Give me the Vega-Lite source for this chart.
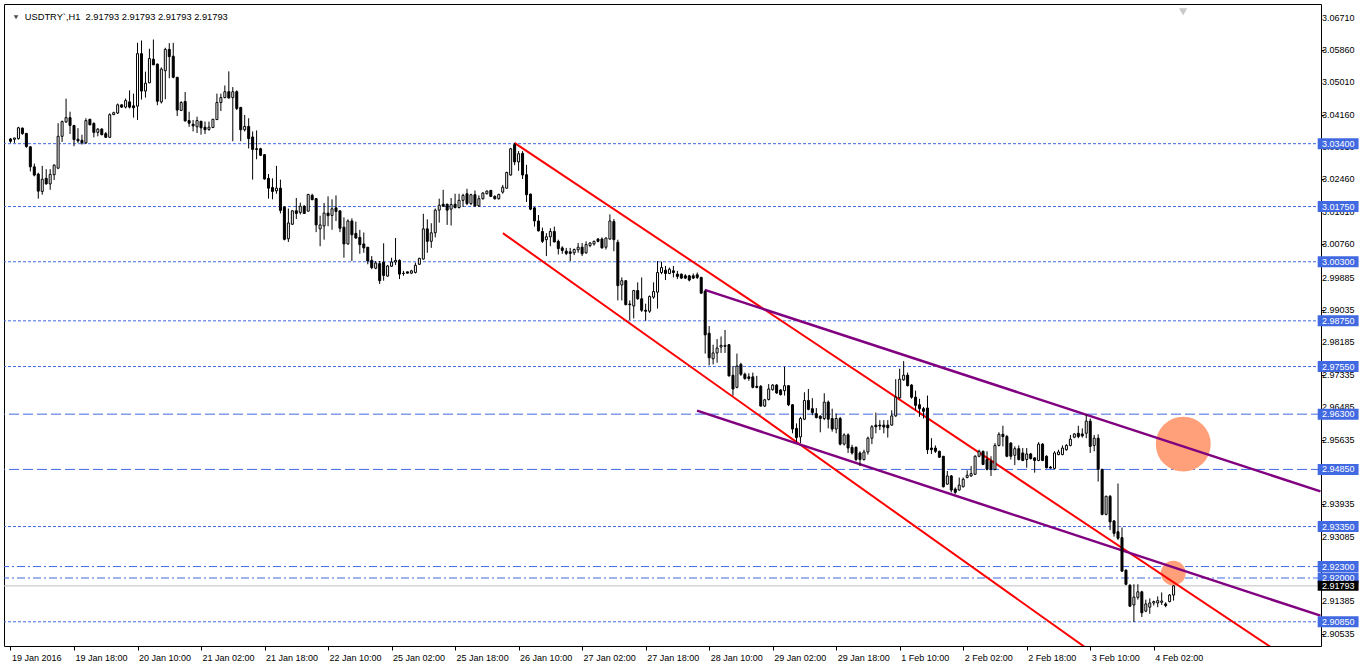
{
"$schema":"https://vega.github.io/schema/vega-lite/v6.json",
"autosize":"none","width":1317,"height":642,
"padding":{"left":4,"top":4,"right":45,"bottom":19},
"background":"white",
"config":{"view":{"stroke":"black","strokeWidth":1},"axis":{"domain":false,"grid":false,"tickColor":"black","labelColor":"black","labelFont":"Liberation Sans","labelFontSize":9,"labelOverlap":false}},
"datasets":{
"candles":[
{"i":0,"o":3.03524,"h":3.0355,"l":3.03421,"c":3.03464},
{"i":1,"o":3.03515,"h":3.0355,"l":3.03421,"c":3.0355},
{"i":2,"o":3.03533,"h":3.03843,"l":3.03507,"c":3.03817},
{"i":3,"o":3.03808,"h":3.03825,"l":3.03636,"c":3.03662},
{"i":4,"o":3.0367,"h":3.03679,"l":3.03291,"c":3.03326},
{"i":5,"o":3.03317,"h":3.03334,"l":3.02671,"c":3.02792},
{"i":6,"o":3.02792,"h":3.02878,"l":3.02542,"c":3.02576},
{"i":7,"o":3.02602,"h":3.02637,"l":3.01956,"c":3.02154},
{"i":8,"o":3.02146,"h":3.02818,"l":3.0206,"c":3.02465},
{"i":9,"o":3.0249,"h":3.02731,"l":3.02327,"c":3.02344},
{"i":10,"o":3.02344,"h":3.02731,"l":3.02189,"c":3.02594},
{"i":11,"o":3.02585,"h":3.02861,"l":3.02447,"c":3.02835},
{"i":12,"o":3.02757,"h":3.03937,"l":3.02731,"c":3.03593},
{"i":13,"o":3.03593,"h":3.04006,"l":3.03446,"c":3.0398},
{"i":14,"o":3.03972,"h":3.04583,"l":3.03946,"c":3.04084},
{"i":15,"o":3.04084,"h":3.04239,"l":3.03653,"c":3.03877},
{"i":16,"o":3.03877,"h":3.03894,"l":3.03334,"c":3.03507},
{"i":17,"o":3.03515,"h":3.03808,"l":3.03421,"c":3.03472},
{"i":18,"o":3.03489,"h":3.03636,"l":3.03377,"c":3.03421},
{"i":19,"o":3.03421,"h":3.04067,"l":3.03395,"c":3.04006},
{"i":20,"o":3.04041,"h":3.04049,"l":3.03886,"c":3.03894},
{"i":21,"o":3.03929,"h":3.03963,"l":3.03567,"c":3.03696},
{"i":22,"o":3.03696,"h":3.03808,"l":3.03593,"c":3.03782},
{"i":23,"o":3.03782,"h":3.03808,"l":3.03619,"c":3.03636},
{"i":24,"o":3.03662,"h":3.03705,"l":3.0355,"c":3.03567},
{"i":25,"o":3.03567,"h":3.04196,"l":3.0355,"c":3.04161},
{"i":26,"o":3.04161,"h":3.04239,"l":3.04153,"c":3.04213},
{"i":27,"o":3.04204,"h":3.04454,"l":3.04178,"c":3.0442},
{"i":28,"o":3.0442,"h":3.04428,"l":3.04342,"c":3.04359},
{"i":29,"o":3.04359,"h":3.04583,"l":3.04325,"c":3.04532},
{"i":30,"o":3.04497,"h":3.04799,"l":3.04325,"c":3.04359},
{"i":31,"o":3.04394,"h":3.04712,"l":3.04084,"c":3.04342},
{"i":32,"o":3.04385,"h":3.06047,"l":3.04023,"c":3.05763},
{"i":33,"o":3.05763,"h":3.06108,"l":3.04557,"c":3.04781},
{"i":34,"o":3.04781,"h":3.0529,"l":3.04609,"c":3.04988},
{"i":35,"o":3.04997,"h":3.05892,"l":3.04988,"c":3.05634},
{"i":36,"o":3.05617,"h":3.06134,"l":3.05462,"c":3.0547},
{"i":37,"o":3.05488,"h":3.05505,"l":3.04411,"c":3.04514},
{"i":38,"o":3.04497,"h":3.05402,"l":3.04454,"c":3.05358},
{"i":39,"o":3.05315,"h":3.05918,"l":3.04566,"c":3.05875},
{"i":40,"o":3.05875,"h":3.06039,"l":3.05117,"c":3.05686},
{"i":41,"o":3.05694,"h":3.06047,"l":3.05117,"c":3.05143},
{"i":42,"o":3.05143,"h":3.05143,"l":3.04127,"c":3.04282},
{"i":43,"o":3.04273,"h":3.04514,"l":3.04256,"c":3.0448},
{"i":44,"o":3.04506,"h":3.04756,"l":3.0398,"c":3.03998},
{"i":45,"o":3.04006,"h":3.04239,"l":3.03843,"c":3.03937},
{"i":46,"o":3.03911,"h":3.04023,"l":3.03722,"c":3.03868},
{"i":47,"o":3.03843,"h":3.0411,"l":3.03679,"c":3.04006},
{"i":48,"o":3.03989,"h":3.03998,"l":3.03636,"c":3.03817},
{"i":49,"o":3.03834,"h":3.0398,"l":3.03653,"c":3.03765},
{"i":50,"o":3.03774,"h":3.0398,"l":3.03739,"c":3.03834},
{"i":51,"o":3.03825,"h":3.04049,"l":3.03808,"c":3.04041},
{"i":52,"o":3.04032,"h":3.04713,"l":3.04023,"c":3.0448},
{"i":53,"o":3.0448,"h":3.04713,"l":3.04256,"c":3.04609},
{"i":54,"o":3.04609,"h":3.04928,"l":3.04592,"c":3.04764},
{"i":55,"o":3.04764,"h":3.05298,"l":3.04583,"c":3.046},
{"i":56,"o":3.04609,"h":3.04885,"l":3.03464,"c":3.04764},
{"i":57,"o":3.04764,"h":3.04799,"l":3.04282,"c":3.04325},
{"i":58,"o":3.0435,"h":3.04368,"l":3.03464,"c":3.03765},
{"i":59,"o":3.03765,"h":3.04153,"l":3.03722,"c":3.03852},
{"i":60,"o":3.03852,"h":3.04067,"l":3.03274,"c":3.03533},
{"i":61,"o":3.03576,"h":3.03722,"l":3.02456,"c":3.03249},
{"i":62,"o":3.03266,"h":3.03748,"l":3.0299,"c":3.03249},
{"i":63,"o":3.03266,"h":3.03292,"l":3.03076,"c":3.03094},
{"i":64,"o":3.03111,"h":3.0312,"l":3.02456,"c":3.02473},
{"i":65,"o":3.0249,"h":3.02603,"l":3.01957,"c":3.02232},
{"i":66,"o":3.0225,"h":3.0249,"l":3.0194,"c":3.02146},
{"i":67,"o":3.02163,"h":3.02818,"l":3.02086,"c":3.02232},
{"i":68,"o":3.02232,"h":3.02456,"l":3.01569,"c":3.01647},
{"i":69,"o":3.01733,"h":3.01759,"l":3.00863,"c":3.00889},
{"i":70,"o":3.00906,"h":3.01698,"l":3.0082,"c":3.01319},
{"i":71,"o":3.01285,"h":3.01655,"l":3.01268,"c":3.01638},
{"i":72,"o":3.01638,"h":3.01974,"l":3.01423,"c":3.01569},
{"i":73,"o":3.01595,"h":3.01853,"l":3.01543,"c":3.01759},
{"i":74,"o":3.01759,"h":3.01785,"l":3.0156,"c":3.01569},
{"i":75,"o":3.01629,"h":3.02077,"l":3.01621,"c":3.02069},
{"i":76,"o":3.02043,"h":3.02086,"l":3.01914,"c":3.01931},
{"i":77,"o":3.01957,"h":3.01974,"l":3.01078,"c":3.01268},
{"i":78,"o":3.01164,"h":3.01509,"l":3.00708,"c":3.01268},
{"i":79,"o":3.01242,"h":3.01845,"l":3.0088,"c":3.01578},
{"i":80,"o":3.01578,"h":3.02017,"l":3.01233,"c":3.01509},
{"i":81,"o":3.01517,"h":3.0194,"l":3.01138,"c":3.0169},
{"i":82,"o":3.01716,"h":3.02043,"l":3.01371,"c":3.01621},
{"i":83,"o":3.01638,"h":3.01638,"l":3.01078,"c":3.01181},
{"i":84,"o":3.01207,"h":3.01466,"l":3.00406,"c":3.00768},
{"i":85,"o":3.00768,"h":3.01414,"l":3.00751,"c":3.01371},
{"i":86,"o":3.01371,"h":3.0144,"l":3.0032,"c":3.01009},
{"i":87,"o":3.01044,"h":3.01354,"l":3.00906,"c":3.00923},
{"i":88,"o":3.0094,"h":3.01138,"l":3.0051,"c":3.00751},
{"i":89,"o":3.00768,"h":3.01069,"l":3.00536,"c":3.00665},
{"i":90,"o":3.00682,"h":3.00682,"l":3.00234,"c":3.0032},
{"i":91,"o":3.00337,"h":3.00449,"l":3.00105,"c":3.00148},
{"i":92,"o":3.00131,"h":3.0032,"l":3.00105,"c":3.00268},
{"i":93,"o":3.00251,"h":3.0032,"l":2.99717,"c":2.99804},
{"i":94,"o":3.00294,"h":3.00785,"l":2.99804,"c":2.99941},
{"i":95,"o":2.99924,"h":3.00217,"l":2.99907,"c":3.00191},
{"i":96,"o":3.00182,"h":3.00406,"l":3.00165,"c":3.00294},
{"i":97,"o":3.00294,"h":3.00923,"l":3.00217,"c":3.00337},
{"i":98,"o":3.00337,"h":3.00363,"l":2.99847,"c":2.99976},
{"i":99,"o":3.00001,"h":3.00062,"l":2.99933,"c":2.99993},
{"i":100,"o":3.00036,"h":3.00036,"l":2.99993,"c":3.00001},
{"i":101,"o":3.00001,"h":3.00088,"l":2.99976,"c":3.00062},
{"i":102,"o":3.00019,"h":3.00277,"l":2.99993,"c":3.00208},
{"i":103,"o":3.00234,"h":3.00406,"l":3.00217,"c":3.00389},
{"i":104,"o":3.00372,"h":3.0156,"l":3.00355,"c":3.01164},
{"i":105,"o":3.01164,"h":3.01414,"l":3.00536,"c":3.00837},
{"i":106,"o":3.00837,"h":3.01311,"l":3.00665,"c":3.01061},
{"i":107,"o":3.01061,"h":3.01698,"l":3.0094,"c":3.01655},
{"i":108,"o":3.01655,"h":3.01957,"l":3.01328,"c":3.01785},
{"i":109,"o":3.0181,"h":3.02189,"l":3.01741,"c":3.01759},
{"i":110,"o":3.0181,"h":3.01828,"l":3.01268,"c":3.01655},
{"i":111,"o":3.01681,"h":3.01974,"l":3.0125,"c":3.01802},
{"i":112,"o":3.0181,"h":3.02086,"l":3.01698,"c":3.01724},
{"i":113,"o":3.01724,"h":3.02086,"l":3.01698,"c":3.01914},
{"i":114,"o":3.01913,"h":3.02086,"l":3.0174,"c":3.02043},
{"i":115,"o":3.02086,"h":3.02215,"l":3.01784,"c":3.01827},
{"i":116,"o":3.01827,"h":3.02086,"l":3.01784,"c":3.0206},
{"i":117,"o":3.0206,"h":3.02172,"l":3.0174,"c":3.01767},
{"i":118,"o":3.01767,"h":3.02043,"l":3.0174,"c":3.01956},
{"i":119,"o":3.01956,"h":3.02129,"l":3.01931,"c":3.02103},
{"i":120,"o":3.02086,"h":3.02172,"l":3.02068,"c":3.02155},
{"i":121,"o":3.02172,"h":3.02189,"l":3.01999,"c":3.02017},
{"i":122,"o":3.02017,"h":3.02043,"l":3.01931,"c":3.01956},
{"i":123,"o":3.01956,"h":3.02086,"l":3.01931,"c":3.02068},
{"i":124,"o":3.02129,"h":3.02318,"l":3.02086,"c":3.02258},
{"i":125,"o":3.02232,"h":3.02663,"l":3.02215,"c":3.02645},
{"i":126,"o":3.02577,"h":3.03291,"l":3.02559,"c":3.03266},
{"i":127,"o":3.03378,"h":3.03421,"l":3.02835,"c":3.02921},
{"i":128,"o":3.02921,"h":3.03205,"l":3.02688,"c":3.03136},
{"i":129,"o":3.03145,"h":3.03205,"l":3.02473,"c":3.02577},
{"i":130,"o":3.02585,"h":3.02844,"l":3.0187,"c":3.0206},
{"i":131,"o":3.02077,"h":3.02086,"l":3.01655,"c":3.01681},
{"i":132,"o":3.01715,"h":3.0174,"l":3.01224,"c":3.01371},
{"i":133,"o":3.01371,"h":3.01526,"l":3.01095,"c":3.01112},
{"i":134,"o":3.01095,"h":3.01198,"l":3.00794,"c":3.00837},
{"i":135,"o":3.0088,"h":3.01052,"l":3.0045,"c":3.00957},
{"i":136,"o":3.00957,"h":3.01181,"l":3.00708,"c":3.01095},
{"i":137,"o":3.01095,"h":3.01224,"l":3.00811,"c":3.0082},
{"i":138,"o":3.00837,"h":3.0088,"l":3.00492,"c":3.00647},
{"i":139,"o":3.00664,"h":3.00708,"l":3.0051,"c":3.00596},
{"i":140,"o":3.00578,"h":3.00664,"l":3.00475,"c":3.00518},
{"i":141,"o":3.00561,"h":3.00664,"l":3.0032,"c":3.00518},
{"i":142,"o":3.00535,"h":3.00647,"l":3.00475,"c":3.00621},
{"i":143,"o":3.00613,"h":3.00794,"l":3.00535,"c":3.00682},
{"i":144,"o":3.00682,"h":3.00794,"l":3.0045,"c":3.0051},
{"i":145,"o":3.00535,"h":3.00837,"l":3.0051,"c":3.00751},
{"i":146,"o":3.00725,"h":3.00811,"l":3.00682,"c":3.00794},
{"i":147,"o":3.00768,"h":3.00854,"l":3.00725,"c":3.00837},
{"i":148,"o":3.00897,"h":3.00923,"l":3.00811,"c":3.00837},
{"i":149,"o":3.00897,"h":3.0094,"l":3.00647,"c":3.00664},
{"i":150,"o":3.00682,"h":3.0094,"l":3.00621,"c":3.00923},
{"i":151,"o":3.00897,"h":3.01543,"l":3.0088,"c":3.01371},
{"i":152,"o":3.01354,"h":3.01422,"l":3.00578,"c":3.0088},
{"i":153,"o":3.00811,"h":3.0088,"l":2.99286,"c":2.99674},
{"i":154,"o":2.99691,"h":2.99889,"l":2.99286,"c":2.99803},
{"i":155,"o":2.99803,"h":2.9982,"l":2.99157,"c":2.99174},
{"i":156,"o":2.99192,"h":2.99286,"l":2.9877,"c":2.99174},
{"i":157,"o":2.9914,"h":2.99562,"l":2.98813,"c":2.99545},
{"i":158,"o":2.99545,"h":2.9976,"l":2.99304,"c":2.99329},
{"i":159,"o":2.99329,"h":2.99889,"l":2.98985,"c":2.99028},
{"i":160,"o":2.99028,"h":2.992,"l":2.98752,"c":2.99002},
{"i":161,"o":2.99002,"h":2.99416,"l":2.98959,"c":2.9939},
{"i":162,"o":2.99372,"h":2.9976,"l":2.99329,"c":2.99519},
{"i":163,"o":2.99502,"h":3.0032,"l":2.99071,"c":3.00018},
{"i":164,"o":3.00018,"h":3.00303,"l":2.99975,"c":3.00148},
{"i":165,"o":3.00079,"h":3.00191,"l":2.9982,"c":2.99993},
{"i":166,"o":2.99993,"h":3.00148,"l":2.99975,"c":3.00105},
{"i":167,"o":3.00062,"h":3.00191,"l":2.99889,"c":3.00018},
{"i":168,"o":2.99975,"h":3.00062,"l":2.99846,"c":2.99915},
{"i":169,"o":2.99975,"h":2.99992,"l":2.99846,"c":2.99872},
{"i":170,"o":2.99932,"h":2.99975,"l":2.99846,"c":2.99872},
{"i":171,"o":2.99932,"h":2.99958,"l":2.99786,"c":2.9982},
{"i":172,"o":2.99932,"h":2.99992,"l":2.99846,"c":2.99872},
{"i":173,"o":2.99958,"h":3.00018,"l":2.99846,"c":2.99889},
{"i":174,"o":2.99889,"h":2.99906,"l":2.99458,"c":2.99476},
{"i":175,"o":2.99527,"h":2.99544,"l":2.97891,"c":2.98382},
{"i":176,"o":2.98425,"h":2.98614,"l":2.97581,"c":2.97779},
{"i":177,"o":2.97753,"h":2.98123,"l":2.97607,"c":2.97908},
{"i":178,"o":2.97908,"h":2.9827,"l":2.9765,"c":2.98037},
{"i":179,"o":2.98063,"h":2.98339,"l":2.97908,"c":2.98106},
{"i":180,"o":2.9808,"h":2.98511,"l":2.97908,"c":2.98106},
{"i":181,"o":2.98123,"h":2.9814,"l":2.97288,"c":2.97305},
{"i":182,"o":2.97322,"h":2.97563,"l":2.96788,"c":2.96961},
{"i":183,"o":2.97004,"h":2.97891,"l":2.96978,"c":2.97563},
{"i":184,"o":2.97607,"h":2.9765,"l":2.97305,"c":2.97348},
{"i":185,"o":2.97348,"h":2.97391,"l":2.97202,"c":2.97236},
{"i":186,"o":2.97279,"h":2.97374,"l":2.97176,"c":2.97236},
{"i":187,"o":2.97279,"h":2.97391,"l":2.96978,"c":2.97004},
{"i":188,"o":2.9703,"h":2.97305,"l":2.96978,"c":2.97004},
{"i":189,"o":2.9703,"h":2.97064,"l":2.96496,"c":2.96513},
{"i":190,"o":2.96513,"h":2.96702,"l":2.96487,"c":2.96676},
{"i":191,"o":2.96685,"h":2.9709,"l":2.96659,"c":2.96961},
{"i":192,"o":2.96943,"h":2.9709,"l":2.96917,"c":2.97064},
{"i":193,"o":2.97064,"h":2.9709,"l":2.96831,"c":2.96857},
{"i":194,"o":2.96935,"h":2.96961,"l":2.96788,"c":2.96814},
{"i":195,"o":2.96917,"h":2.97546,"l":2.96788,"c":2.97047},
{"i":196,"o":2.97047,"h":2.97064,"l":2.96513,"c":2.96547},
{"i":197,"o":2.96547,"h":2.96565,"l":2.95798,"c":2.9591},
{"i":198,"o":2.95927,"h":2.96057,"l":2.95566,"c":2.95686},
{"i":199,"o":2.95703,"h":2.96229,"l":2.9554,"c":2.96186},
{"i":200,"o":2.96168,"h":2.96875,"l":2.96143,"c":2.96659},
{"i":201,"o":2.96659,"h":2.96961,"l":2.96401,"c":2.96427},
{"i":202,"o":2.96444,"h":2.9672,"l":2.96272,"c":2.96341},
{"i":203,"o":2.96315,"h":2.96461,"l":2.96186,"c":2.96212},
{"i":204,"o":2.96246,"h":2.96272,"l":2.95824,"c":2.96186},
{"i":205,"o":2.96186,"h":2.96849,"l":2.96143,"c":2.96616},
{"i":206,"o":2.96616,"h":2.96659,"l":2.95927,"c":2.96168},
{"i":207,"o":2.96186,"h":2.96444,"l":2.95841,"c":2.9591},
{"i":208,"o":2.9591,"h":2.96315,"l":2.95798,"c":2.96186},
{"i":209,"o":2.96186,"h":2.96229,"l":2.9548,"c":2.95514},
{"i":210,"o":2.95514,"h":2.95798,"l":2.9548,"c":2.95755},
{"i":211,"o":2.95755,"h":2.95798,"l":2.95281,"c":2.95411},
{"i":212,"o":2.95428,"h":2.95497,"l":2.95238,"c":2.95281},
{"i":213,"o":2.95428,"h":2.95454,"l":2.95066,"c":2.95109},
{"i":214,"o":2.95281,"h":2.95324,"l":2.94937,"c":2.95109},
{"i":215,"o":2.95109,"h":2.95367,"l":2.95083,"c":2.95307},
{"i":216,"o":2.95307,"h":2.95712,"l":2.95238,"c":2.95669},
{"i":217,"o":2.95669,"h":2.96013,"l":2.95514,"c":2.9597},
{"i":218,"o":2.96013,"h":2.96341,"l":2.95798,"c":2.9597},
{"i":219,"o":2.96013,"h":2.96143,"l":2.95884,"c":2.95988},
{"i":220,"o":2.96013,"h":2.96143,"l":2.95798,"c":2.95962},
{"i":221,"o":2.96013,"h":2.96143,"l":2.95686,"c":2.95944},
{"i":222,"o":2.96014,"h":2.96401,"l":2.95996,"c":2.96255},
{"i":223,"o":2.96255,"h":2.97219,"l":2.96229,"c":2.96746},
{"i":224,"o":2.96729,"h":2.97495,"l":2.96703,"c":2.97219},
{"i":225,"o":2.97202,"h":2.97693,"l":2.97176,"c":2.97323},
{"i":226,"o":2.97323,"h":2.97392,"l":2.9703,"c":2.97047},
{"i":227,"o":2.97064,"h":2.9709,"l":2.96703,"c":2.96746},
{"i":228,"o":2.96746,"h":2.96918,"l":2.96401,"c":2.9653},
{"i":229,"o":2.96548,"h":2.96703,"l":2.96229,"c":2.96444},
{"i":230,"o":2.96444,"h":2.96487,"l":2.96186,"c":2.96375},
{"i":231,"o":2.96461,"h":2.96789,"l":2.95256,"c":2.95368},
{"i":232,"o":2.95411,"h":2.95669,"l":2.95256,"c":2.95368},
{"i":233,"o":2.95411,"h":2.9548,"l":2.95282,"c":2.95325},
{"i":234,"o":2.95325,"h":2.95342,"l":2.95152,"c":2.9517},
{"i":235,"o":2.95195,"h":2.95195,"l":2.94377,"c":2.94394},
{"i":236,"o":2.94463,"h":2.94808,"l":2.94446,"c":2.94679},
{"i":237,"o":2.94679,"h":2.94704,"l":2.94248,"c":2.94308},
{"i":238,"o":2.94334,"h":2.94377,"l":2.94205,"c":2.94248},
{"i":239,"o":2.94308,"h":2.94636,"l":2.94291,"c":2.94437},
{"i":240,"o":2.94394,"h":2.94636,"l":2.94377,"c":2.94592},
{"i":241,"o":2.94636,"h":2.94825,"l":2.94618,"c":2.94696},
{"i":242,"o":2.94679,"h":2.94937,"l":2.94653,"c":2.94739},
{"i":243,"o":2.94722,"h":2.95221,"l":2.94704,"c":2.95195},
{"i":244,"o":2.95195,"h":2.95368,"l":2.9517,"c":2.95325},
{"i":245,"o":2.95325,"h":2.95342,"l":2.94963,"c":2.9498},
{"i":246,"o":2.9511,"h":2.95325,"l":2.94825,"c":2.94851},
{"i":247,"o":2.95066,"h":2.95195,"l":2.94679,"c":2.94851},
{"i":248,"o":2.94851,"h":2.9554,"l":2.94825,"c":2.9548},
{"i":249,"o":2.9548,"h":2.95824,"l":2.95454,"c":2.95772},
{"i":250,"o":2.95772,"h":2.95996,"l":2.95454,"c":2.95712},
{"i":251,"o":2.95712,"h":2.95755,"l":2.9517,"c":2.95195},
{"i":252,"o":2.9554,"h":2.95566,"l":2.95109,"c":2.95195},
{"i":253,"o":2.95221,"h":2.95454,"l":2.94963,"c":2.95394},
{"i":254,"o":2.95394,"h":2.9548,"l":2.95084,"c":2.9511},
{"i":255,"o":2.95282,"h":2.95411,"l":2.95066,"c":2.95084},
{"i":256,"o":2.9511,"h":2.95411,"l":2.94894,"c":2.95256},
{"i":257,"o":2.95256,"h":2.95282,"l":2.95109,"c":2.95135},
{"i":258,"o":2.95152,"h":2.9517,"l":2.94765,"c":2.95084},
{"i":259,"o":2.95084,"h":2.95566,"l":2.95066,"c":2.95514},
{"i":260,"o":2.95514,"h":2.9554,"l":2.95066,"c":2.95084},
{"i":261,"o":2.95195,"h":2.95221,"l":2.94877,"c":2.94894},
{"i":262,"o":2.94911,"h":2.94937,"l":2.94877,"c":2.94885},
{"i":263,"o":2.94877,"h":2.95325,"l":2.9486,"c":2.95282},
{"i":264,"o":2.95239,"h":2.95368,"l":2.95221,"c":2.95308},
{"i":265,"o":2.95239,"h":2.9548,"l":2.95221,"c":2.95411},
{"i":266,"o":2.95368,"h":2.95514,"l":2.95342,"c":2.9548},
{"i":267,"o":2.9548,"h":2.95755,"l":2.95454,"c":2.95643},
{"i":268,"o":2.95695,"h":2.95798,"l":2.95669,"c":2.95781},
{"i":269,"o":2.95798,"h":2.95996,"l":2.95669,"c":2.95712},
{"i":270,"o":2.95781,"h":2.95927,"l":2.95686,"c":2.9573},
{"i":271,"o":2.95798,"h":2.96289,"l":2.95669,"c":2.96117},
{"i":272,"o":2.96117,"h":2.96186,"l":2.95282,"c":2.95454},
{"i":273,"o":2.9548,"h":2.95755,"l":2.95325,"c":2.95669},
{"i":274,"o":2.95669,"h":2.95772,"l":2.94532,"c":2.94851},
{"i":275,"o":2.9485,"h":2.94867,"l":2.93644,"c":2.9367},
{"i":276,"o":2.9367,"h":2.94161,"l":2.93644,"c":2.94144},
{"i":277,"o":2.94144,"h":2.94178,"l":2.93257,"c":2.93472},
{"i":278,"o":2.93498,"h":2.93515,"l":2.93085,"c":2.93171},
{"i":279,"o":2.93214,"h":2.9448,"l":2.92999,"c":2.93042},
{"i":280,"o":2.93059,"h":2.93326,"l":2.92163,"c":2.9218},
{"i":281,"o":2.92206,"h":2.92223,"l":2.9181,"c":2.91836},
{"i":282,"o":2.9181,"h":2.91836,"l":2.9125,"c":2.91259},
{"i":283,"o":2.91293,"h":2.91836,"l":2.90845,"c":2.915},
{"i":284,"o":2.91491,"h":2.91836,"l":2.91431,"c":2.91637},
{"i":285,"o":2.91637,"h":2.91663,"l":2.90974,"c":2.91086},
{"i":286,"o":2.91129,"h":2.91431,"l":2.91103,"c":2.91319},
{"i":287,"o":2.91233,"h":2.91465,"l":2.9106,"c":2.91345},
{"i":288,"o":2.91345,"h":2.91405,"l":2.91276,"c":2.9138},
{"i":289,"o":2.91345,"h":2.91517,"l":2.91233,"c":2.91405},
{"i":290,"o":2.91362,"h":2.9162,"l":2.91293,"c":2.91396},
{"i":291,"o":2.91319,"h":2.91362,"l":2.91233,"c":2.91276},
{"i":292,"o":2.9138,"h":2.91577,"l":2.91362,"c":2.91552},
{"i":293,"o":2.91552,"h":2.9181,"l":2.91405,"c":2.91793}
],
"yticks":[{"v":3.0671},{"v":3.0586},{"v":3.0501},{"v":3.0416},{"v":3.0331},{"v":3.0246},{"v":3.0161},{"v":3.0076},{"v":2.99885},{"v":2.99035},{"v":2.98185},{"v":2.97335},{"v":2.96485},{"v":2.95635},{"v":2.94785},{"v":2.93935},{"v":2.93085},{"v":2.92235},{"v":2.91385},{"v":2.90535}],
"dotted":[{"v":3.034},{"v":3.0175},{"v":3.003},{"v":2.9875},{"v":2.9755},{"v":2.9335},{"v":2.9085}],
"longdash":[{"v":2.963},{"v":2.9485}],
"dashdot":[{"v":2.923},{"v":2.92}],
"current":[{"v":2.91793}],
"bluelabels":[{"v":3.034},{"v":3.0175},{"v":3.003},{"v":2.9875},{"v":2.9755},{"v":2.963},{"v":2.9485},{"v":2.9335},{"v":2.923},{"v":2.92},{"v":2.9085}],
"redlines":[{"line":"r1","i":126.95,"p":3.03421},{"line":"r1","i":330,"p":2.89317},{"line":"r2","i":124.05,"p":3.01051},{"line":"r2","i":280,"p":2.89493}],
"purplelines":[{"line":"p1","i":174.9,"p":2.99563},{"line":"p1","i":330,"p":2.94273},{"line":"p2","i":172.95,"p":2.96392},{"line":"p2","i":330,"p":2.91011}],
"bigcircle":[{"i":295.43,"p":2.95514}],
"smallcircle":[{"i":292.93,"p":2.92129}]
},
"layer":[
{"data":{"name":"dotted"},"mark":{"type":"rule","color":"#4169e1","strokeWidth":1,"strokeDash":[3,2]},
 "encoding":{"y":{"field":"v","type":"quantitative","title":null,"scale":{"domain":[2.90346,3.06935],"nice":false,"zero":false}}}},
{"data":{"name":"longdash"},"mark":{"type":"rule","color":"#4169e1","strokeWidth":1,"strokeDash":[10,4]},
 "encoding":{"y":{"field":"v","type":"quantitative","title":null,"scale":{"domain":[2.90346,3.06935],"nice":false,"zero":false}}}},
{"data":{"name":"dashdot"},"mark":{"type":"rule","color":"#4169e1","strokeWidth":1,"strokeDash":[8,3,2,3]},
 "encoding":{"y":{"field":"v","type":"quantitative","title":null,"scale":{"domain":[2.90346,3.06935],"nice":false,"zero":false}}}},
{"data":{"name":"current"},"mark":{"type":"rule","color":"#c0c0c0","strokeWidth":1},
 "encoding":{"y":{"field":"v","type":"quantitative","title":null,"scale":{"domain":[2.90346,3.06935],"nice":false,"zero":false}}}},
{"data":{"name":"bigcircle"},"mark":{"type":"point","shape":"circle","filled":true,"color":"#ffa07a","opacity":1,"size":3019,"clip":true},
 "encoding":{"x":{"field":"i","type":"quantitative","title":null,"scale":{"domain":[-0.375,328.875],"nice":false,"zero":false}},
  "y":{"field":"p","type":"quantitative","title":null,"scale":{"domain":[2.90346,3.06935],"nice":false,"zero":false}}}},
{"data":{"name":"smallcircle"},"mark":{"type":"point","shape":"circle","filled":true,"color":"#ffa07a","opacity":1,"size":616,"clip":true},
 "encoding":{"x":{"field":"i","type":"quantitative","title":null,"scale":{"domain":[-0.375,328.875],"nice":false,"zero":false}},
  "y":{"field":"p","type":"quantitative","title":null,"scale":{"domain":[2.90346,3.06935],"nice":false,"zero":false}}}},
{"data":{"name":"redlines"},"mark":{"type":"line","color":"#ff0000","strokeWidth":2,"clip":true},
 "encoding":{"x":{"field":"i","type":"quantitative","title":null,"scale":{"domain":[-0.375,328.875],"nice":false,"zero":false}},
  "y":{"field":"p","type":"quantitative","title":null,"scale":{"domain":[2.90346,3.06935],"nice":false,"zero":false}},
  "detail":{"field":"line"}}},
{"data":{"name":"purplelines"},"mark":{"type":"line","color":"#800080","strokeWidth":2.5,"clip":true},
 "encoding":{"x":{"field":"i","type":"quantitative","title":null,"scale":{"domain":[-0.375,328.875],"nice":false,"zero":false}},
  "y":{"field":"p","type":"quantitative","title":null,"scale":{"domain":[2.90346,3.06935],"nice":false,"zero":false}},
  "detail":{"field":"line"}}},
{"data":{"name":"candles"},"mark":{"type":"rule","color":"black","strokeWidth":1},
 "encoding":{"x":{"field":"i","type":"quantitative","title":null,"scale":{"domain":[-0.375,328.875],"nice":false,"zero":false},
   "axis":{"values":[0,16,32,48,64,80,96,112,128,144,160,176,192,208,224,240,256,272,288],"tickSize":4,"labelAlign":"left","labelPadding":3,"labelOffset":1,"labelOverlap":false,"labelFlush":false,"labelBound":false,
    "labelExpr":"['19 Jan 2016','19 Jan 18:00','20 Jan 10:00','21 Jan 02:00','21 Jan 18:00','22 Jan 10:00','25 Jan 02:00','25 Jan 18:00','26 Jan 10:00','27 Jan 02:00','27 Jan 18:00','28 Jan 10:00','29 Jan 02:00','29 Jan 18:00','1 Feb 10:00','2 Feb 02:00','2 Feb 18:00','3 Feb 10:00','4 Feb 02:00'][round(datum.value/16)]"}},
  "y":{"field":"h","type":"quantitative","title":null,"scale":{"domain":[2.90346,3.06935],"nice":false,"zero":false},
   "axis":{"orient":"right","values":[3.0671,3.0586,3.0501,3.0416,3.0331,3.0246,3.0161,3.0076,2.99885,2.99035,2.98185,2.97335,2.96485,2.95635,2.94785,2.93935,2.93085,2.92235,2.91385,2.90535],"labels":false,"tickSize":3}},
  "y2":{"field":"l"}}},
{"data":{"name":"candles"},"mark":{"type":"bar","size":2,"stroke":"black","strokeWidth":1},
 "encoding":{"x":{"field":"i","type":"quantitative","title":null,"scale":{"domain":[-0.375,328.875],"nice":false,"zero":false}},
  "y":{"field":"o","type":"quantitative","title":null,"scale":{"domain":[2.90346,3.06935],"nice":false,"zero":false}},
  "y2":{"field":"c"},
  "fill":{"condition":{"test":"datum.c < datum.o","value":"black"},"value":"white"}}},
{"data":{"name":"yticks"},"mark":{"type":"text","color":"black","align":"left","baseline":"middle","font":"Liberation Sans","fontSize":9,"clip":false},
 "encoding":{"x":{"datum":330.4,"type":"quantitative","scale":{"domain":[-0.375,328.875],"nice":false,"zero":false}},
  "y":{"field":"v","type":"quantitative","title":null,"scale":{"domain":[2.90346,3.06935],"nice":false,"zero":false}},
  "text":{"field":"v","type":"quantitative","format":".5f"}}},
{"data":{"name":"bluelabels"},"mark":{"type":"bar","color":"#4169e1","size":11,"clip":false},
 "encoding":{"x":{"datum":329.3,"type":"quantitative","scale":{"domain":[-0.375,328.875],"nice":false,"zero":false}},
  "x2":{"datum":339.6},
  "y":{"field":"v","type":"quantitative","title":null,"scale":{"domain":[2.90346,3.06935],"nice":false,"zero":false}}}},
{"data":{"name":"current"},"mark":{"type":"bar","color":"black","size":10,"clip":false},
 "encoding":{"x":{"datum":329.3,"type":"quantitative","scale":{"domain":[-0.375,328.875],"nice":false,"zero":false}},
  "x2":{"datum":339.6},
  "y":{"field":"v","type":"quantitative","title":null,"scale":{"domain":[2.90346,3.06935],"nice":false,"zero":false}}}},
{"data":{"name":"bluelabels"},"mark":{"type":"text","color":"white","align":"left","baseline":"middle","font":"Liberation Sans","fontSize":9,"clip":false},
 "encoding":{"x":{"datum":330.4,"type":"quantitative","scale":{"domain":[-0.375,328.875],"nice":false,"zero":false}},
  "y":{"field":"v","type":"quantitative","title":null,"scale":{"domain":[2.90346,3.06935],"nice":false,"zero":false}},
  "text":{"field":"v","type":"quantitative","format":".5f"}}},
{"data":{"name":"current"},"mark":{"type":"text","color":"white","align":"left","baseline":"middle","font":"Liberation Sans","fontSize":9,"clip":false},
 "encoding":{"x":{"datum":330.4,"type":"quantitative","scale":{"domain":[-0.375,328.875],"nice":false,"zero":false}},
  "y":{"field":"v","type":"quantitative","title":null,"scale":{"domain":[2.90346,3.06935],"nice":false,"zero":false}},
  "text":{"field":"v","type":"quantitative","format":".5f"}}},
{"data":{"values":[{"t":"USDTRY`,H1\u00a0 2.91793 2.91793 2.91793 2.91793"}]},"mark":{"type":"text","color":"black","align":"left","baseline":"middle","font":"Liberation Sans","fontSize":9.3},
 "encoding":{"x":{"datum":3.6,"type":"quantitative","scale":{"domain":[-0.375,328.875],"nice":false,"zero":false}},
  "y":{"datum":3.06715,"type":"quantitative","scale":{"domain":[2.90346,3.06935],"nice":false,"zero":false}},
  "text":{"field":"t"}}},
{"data":{"values":[{"t":"a"}]},"mark":{"type":"point","shape":"triangle-down","filled":true,"color":"black","size":22},
 "encoding":{"x":{"datum":1.4,"type":"quantitative","scale":{"domain":[-0.375,328.875],"nice":false,"zero":false}},
  "y":{"datum":3.0672,"type":"quantitative","scale":{"domain":[2.90346,3.06935],"nice":false,"zero":false}}}},
{"data":{"values":[{"t":"shift"}]},"mark":{"type":"point","shape":"triangle-down","filled":true,"color":"#b4b4b4","size":70},
 "encoding":{"x":{"datum":295.4,"type":"quantitative","scale":{"domain":[-0.375,328.875],"nice":false,"zero":false}},
  "y":{"datum":3.0686,"type":"quantitative","scale":{"domain":[2.90346,3.06935],"nice":false,"zero":false}}}}
]
}
